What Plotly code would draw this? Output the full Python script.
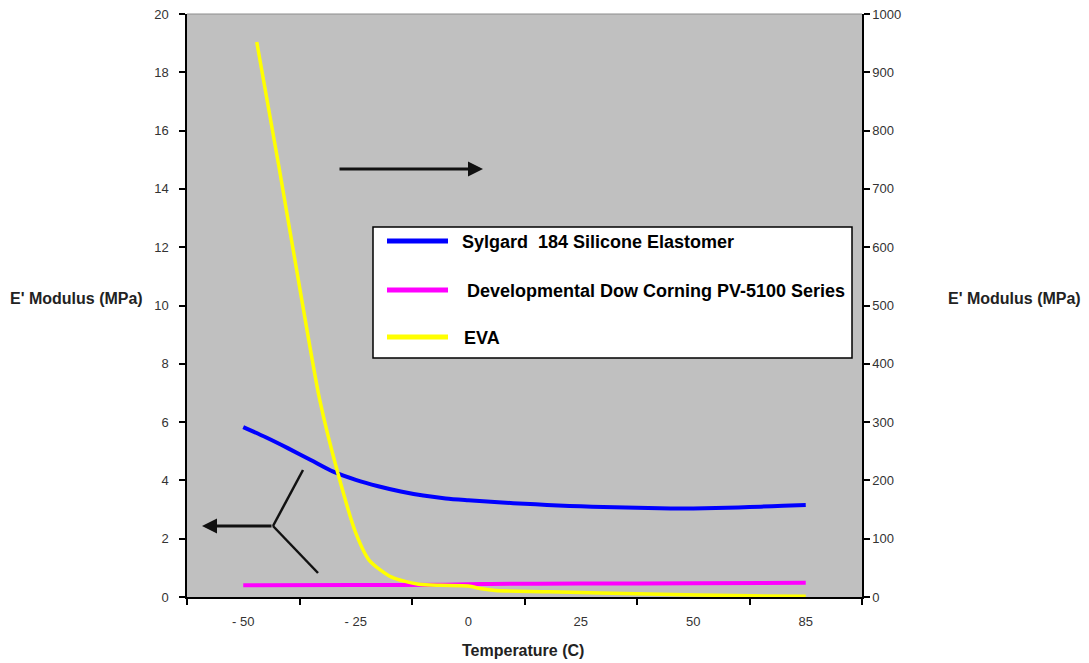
import plotly.graph_objects as go

# ---- data (x on the chart's evenly spaced category scale; last label reads "85") ----
tick_pos = [-50, -25, 0, 25, 50, 75]
tick_text = ["- 50", "- 25", "0", "25", "50", "85"]

sylgard_x = [-50, -45, -40, -35, -30, -25, -20, -15, -10, -5, 0, 5, 10, 15, 20, 25,
             30, 35, 40, 45, 50, 55, 60, 65, 70, 75]
sylgard_y = [5.83, 5.48, 5.10, 4.70, 4.30, 4.02, 3.80, 3.62, 3.48, 3.38, 3.32, 3.27,
             3.22, 3.18, 3.14, 3.11, 3.09, 3.07, 3.05, 3.04, 3.04, 3.05, 3.07, 3.10,
             3.13, 3.16]

pv5100_x = [-50, -25, -5, 0, 5, 25, 50, 75]
pv5100_y = [0.40, 0.41, 0.42, 0.44, 0.45, 0.46, 0.47, 0.49]

eva_x = [-47, -42, -37, -33, -29, -25, -22, -17, -11, -6, 0, 3, 6, 18, 40, 63, 75]
eva_y = [952, 735, 510, 338, 213, 110, 63, 34, 22, 20, 19, 14, 11, 9, 5, 2, 1.5]

series_names = ["Sylgard  184 Silicone Elastomer",
                " Developmental Dow Corning PV-5100 Series",
                "EVA"]
series_colors = ["#0000FF", "#FF00FF", "#FFFF00"]

FONT = "Arial, Liberation Sans, sans-serif"

L, T, PW, PH = 187, 14, 675, 583
FIG_W, FIG_H = 1089, 663

fig = go.Figure()
fig.add_trace(go.Scatter(x=sylgard_x, y=sylgard_y, mode="lines", name=series_names[0],
                         line=dict(color=series_colors[0], width=4, shape="spline", smoothing=0.8),
                         yaxis="y"))
fig.add_trace(go.Scatter(x=pv5100_x, y=pv5100_y, mode="lines", name=series_names[1],
                         line=dict(color=series_colors[1], width=4, shape="spline", smoothing=0.6),
                         yaxis="y"))
fig.add_trace(go.Scatter(x=eva_x, y=eva_y, mode="lines", name=series_names[2],
                         line=dict(color=series_colors[2], width=3.5, shape="spline", smoothing=0.7),
                         yaxis="y2"))

tickfont = dict(family=FONT, size=13, color="#333333")

fig.update_layout(
    width=FIG_W, height=FIG_H, autosize=False,
    margin=dict(l=L, r=FIG_W - L - PW, t=T, b=FIG_H - T - PH, autoexpand=False),
    paper_bgcolor="white", plot_bgcolor="#C0C0C0",
    showlegend=False,
    xaxis=dict(range=[-62.5, 87.5], tickmode="array", tickvals=tick_pos, ticktext=tick_text,
               ticks="", showgrid=False, zeroline=False, showline=True, linecolor="black",
               linewidth=1.5, tickfont=tickfont, ticklabelstandoff=12, automargin=False,
               ticklabeloverflow="allow",
               minor=dict(tickmode="array", tickvals=[-62.5, -37.5, -12.5, 12.5, 37.5, 62.5, 87.5],
                          ticks="outside", ticklen=6, tickwidth=1.5, tickcolor="black",
                          showgrid=False)),
    yaxis=dict(range=[0, 20], dtick=2, ticks="outside", ticklen=6, tickwidth=1.5,
               tickcolor="black", showgrid=False, zeroline=False, showline=True,
               linecolor="black", linewidth=1.5, tickfont=tickfont, automargin=False,
               ticklabeloverflow="allow", ticklabelstandoff=8),
    yaxis2=dict(range=[0, 1000], dtick=100, overlaying="y", side="right", ticks="outside",
                ticklen=6, tickwidth=1.5, tickcolor="black", showgrid=False, zeroline=False,
                showline=True, linecolor="black", linewidth=1.5, tickfont=tickfont,
                automargin=False, ticklabeloverflow="allow"),
)

# helpers: reference-image pixel -> paper coordinates
def px_x(p):
    return (p - L) / float(PW)

def px_y(p):
    return (T + PH - p) / float(PH)

shapes = []
annotations = []

# top border of plot area
shapes.append(dict(type="line", xref="paper", yref="paper", x0=0, x1=1, y0=1, y1=1,
                   line=dict(color="#8c8c8c", width=1)))

# manual legend box
shapes.append(dict(type="rect", xref="paper", yref="paper", x0=px_x(373), x1=px_x(852),
                   y0=px_y(358), y1=px_y(227), fillcolor="white",
                   line=dict(color="black", width=1.5), layer="above"))
legend_rows = [241, 290, 337]
legend_text_x = [460, 465, 462]
for name, color, ry, tx in zip(series_names, series_colors, legend_rows, legend_text_x):
    shapes.append(dict(type="line", xref="paper", yref="paper", x0=px_x(387), x1=px_x(448),
                       y0=px_y(ry), y1=px_y(ry), line=dict(color=color, width=5), layer="above"))
    annotations.append(dict(xref="paper", yref="paper", x=px_x(tx), y=px_y(ry + 1),
                            text="<b>" + name.strip() + "</b>", showarrow=False,
                            xanchor="left", yanchor="middle",
                            font=dict(family=FONT, size=18, color="black")))

# axis titles
title_font = dict(family=FONT, size=16, color="#222222")
annotations.append(dict(xref="paper", yref="paper", x=px_x(76), y=px_y(298),
                        text="<b>E' Modulus (MPa)</b>", showarrow=False,
                        xanchor="center", yanchor="middle", font=title_font))
annotations.append(dict(xref="paper", yref="paper", x=px_x(1015), y=px_y(298),
                        text="<b>E' Modulus (MPa)</b>", showarrow=False,
                        xanchor="center", yanchor="middle", font=title_font))
annotations.append(dict(xref="paper", yref="paper", x=px_x(523), y=px_y(650),
                        text="<b>Temperature (C)</b>", showarrow=False,
                        xanchor="center", yanchor="middle", font=title_font))

# arrow pointing to right axis (EVA)
annotations.append(dict(xref="paper", yref="paper", x=px_x(483), y=px_y(169),
                        ax=338 - 483, ay=0, showarrow=True, arrowhead=2, arrowsize=1,
                        arrowwidth=3, arrowcolor="#111111", text=""))
# forked arrow pointing to left axis
annotations.append(dict(xref="paper", yref="paper", x=px_x(202), y=px_y(526),
                        ax=273 - 202, ay=0, showarrow=True, arrowhead=2, arrowsize=1,
                        arrowwidth=3, arrowcolor="#111111", text=""))
shapes.append(dict(type="line", xref="paper", yref="paper", x0=px_x(273), y0=px_y(526),
                   x1=px_x(303), y1=px_y(470), line=dict(color="#111111", width=2.5)))
shapes.append(dict(type="line", xref="paper", yref="paper", x0=px_x(273), y0=px_y(526),
                   x1=px_x(318), y1=px_y(573), line=dict(color="#111111", width=2.5)))

fig.update_layout(shapes=shapes, annotations=annotations)
# remove the browser's default 8px page margin so the 1089x663 figure fills the window
fig.write_html("out.html", config={"displayModeBar": False},
               post_script="document.body.style.margin='0';document.body.style.overflow='hidden';")
